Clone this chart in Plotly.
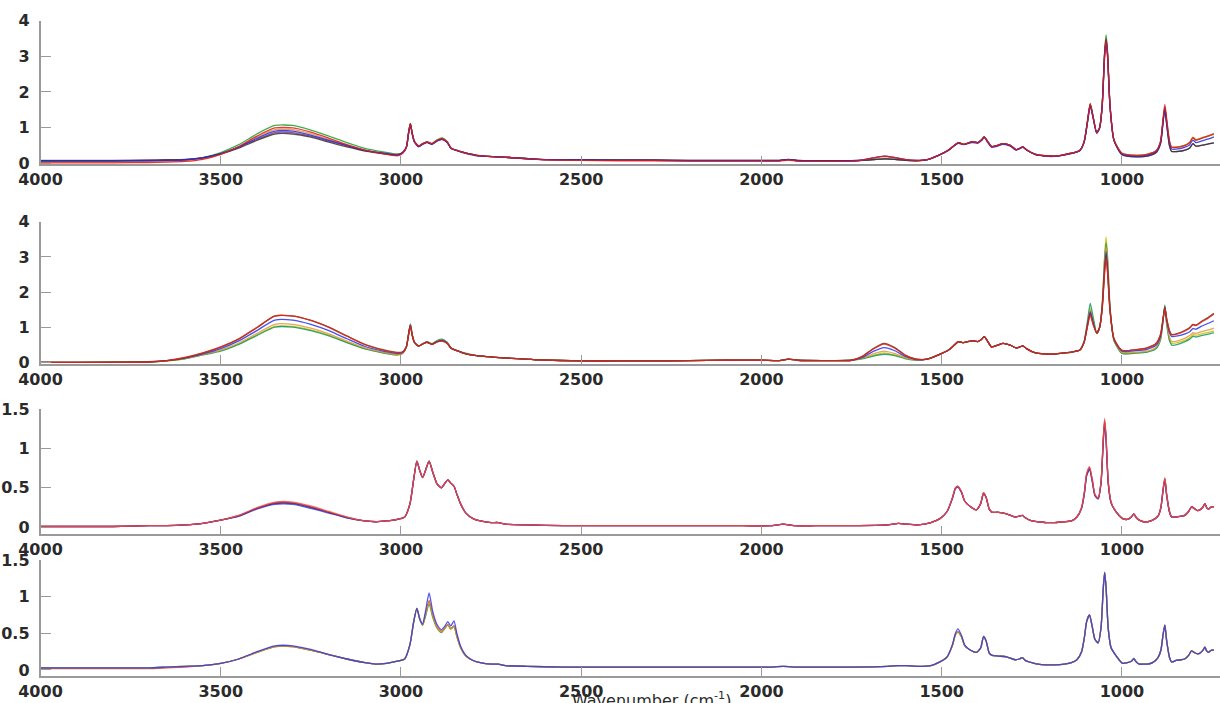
import plotly.graph_objects as go

# ---------------- wavenumber grids (cm-1) ----------------
WN_A = [4000, 3900, 3800, 3700, 3650, 3600, 3550, 3500, 3450, 3400, 3350, 3300, 3250, 3200, 3150, 3100, 3050, 3010,
        2995, 2985, 2979, 2974, 2969, 2963, 2951, 2940, 2928, 2914, 2900, 2886, 2872, 2861, 2845, 2829, 2810, 2790, 2760, 2737, 2700, 2617,
        2500, 2400, 2300, 2200, 2100, 2000, 1950, 1925, 1900, 1800,
        1750, 1720, 1690, 1660, 1630, 1600, 1570, 1540, 1509, 1481,
        1465, 1454, 1440, 1416, 1400, 1390, 1382, 1372, 1362, 1345,
        1330, 1310, 1294, 1283, 1275, 1265, 1240, 1215, 1190, 1165,
        1140, 1117, 1105, 1096, 1088, 1080, 1070, 1062, 1055, 1048,
        1044, 1040, 1033, 1022, 1000, 960, 930, 905, 893, 886,
        881, 876, 868, 862, 845, 825, 812, 803, 795, 780,
        760, 745]

WN_B = [4000, 3900, 3800, 3700, 3650, 3600, 3550, 3500, 3450, 3400,
        3350, 3300, 3250, 3200, 3150, 3100, 3070, 3040, 3010, 2990,
        2975, 2965, 2956, 2948, 2940, 2932, 2922, 2912, 2900, 2888,
        2878, 2870, 2862, 2853, 2845, 2835, 2820, 2800, 2780, 2750,
        2730, 2710, 2650, 2550, 2450, 2350, 2250, 2150, 2050, 1970,
        1940, 1910, 1850, 1750, 1650, 1620, 1600, 1565, 1530, 1505,
        1485, 1470, 1462, 1455, 1445, 1436, 1420, 1404, 1392, 1384,
        1377, 1368, 1360, 1343, 1320, 1297, 1285, 1276, 1268, 1250,
        1233, 1210, 1186, 1160, 1140, 1125, 1112, 1104, 1098, 1090,
        1082, 1075, 1066, 1058, 1052, 1048, 1044, 1038, 1030, 1020,
        1008, 998, 985, 974, 967, 960, 952, 940, 929, 915,
        900, 892, 886, 881, 876, 868, 862, 850, 835, 826,
        815, 807, 800, 790, 781, 775, 770, 765, 760, 755,
        750, 745]

# ---------------- panel 1 spectra ----------------
p1_green = [.06, .06, .06, .07, .08, .10, .16, .30, .52, .82, 1.06, 1.06, .93, .76, .58, .42, .32, .26,
            .30, .45, .85, 1.12, .85, .62, .48, .55, .60, .55, .66, .71, .61, .42, .36, .31, .26, .22, .19, .18, .16, .11,
            .09, .08, .08, .07, .07, .07, .07, .10, .07, .06,
            .07, .08, .10, .12, .11, .08, .07, .10, .22, .37,
            .50, .58, .53, .60, .58, .65, .74, .60, .47, .50,
            .55, .50, .38, .42, .46, .38, .25, .21, .20, .23,
            .28, .36, .60, 1.15, 1.66, 1.30, .86, 1.00, 1.62, 3.15,
            3.60, 3.15, 1.62, .65, .28, .22, .25, .35, .60, 1.18,
            1.55, 1.18, .60, .45, .45, .50, .58, .72, .65, .70,
            .76, .82]
p1_red = [.01, .01, .01, .02, .03, .05, .11, .25, .47, .76, .99, .99, .87, .70, .52, .37, .27, .21,
          .28, .45, .85, 1.10, .84, .62, .48, .55, .60, .55, .64, .68, .60, .42, .36, .31, .26, .22, .19, .18, .16, .10,
          .08, .07, .07, .06, .06, .06, .06, .09, .06, .05,
          .06, .09, .15, .20, .16, .10, .08, .10, .22, .37,
          .50, .58, .53, .60, .58, .65, .74, .60, .47, .50,
          .55, .50, .38, .42, .46, .38, .25, .21, .20, .23,
          .28, .36, .60, 1.15, 1.68, 1.30, .86, 1.00, 1.58, 3.00,
          3.46, 3.00, 1.58, .65, .28, .22, .25, .35, .62, 1.25,
          1.65, 1.25, .62, .45, .45, .50, .58, .72, .65, .70,
          .77, .83]
p1_orange = [.03, .03, .03, .04, .05, .07, .12, .25, .46, .73, .94, .94, .83, .67, .51, .36, .27, .22,
             .29, .45, .85, 1.11, .85, .62, .48, .55, .60, .55, .64, .69, .60, .42, .36, .31, .26, .22, .19, .18, .16, .11,
             .09, .08, .08, .07, .07, .07, .07, .10, .07, .06,
             .07, .09, .14, .18, .15, .10, .08, .10, .22, .37,
             .50, .58, .53, .60, .58, .65, .74, .60, .47, .50,
             .55, .50, .38, .42, .46, .38, .25, .21, .20, .23,
             .28, .36, .60, 1.15, 1.66, 1.30, .86, 1.00, 1.60, 3.08,
             3.50, 3.08, 1.60, .65, .28, .22, .25, .35, .60, 1.20,
             1.58, 1.20, .60, .45, .46, .51, .59, .73, .66, .71,
             .77, .80]
p1_blue = [.06, .06, .06, .07, .08, .09, .15, .27, .45, .70, .90, .90, .79, .64, .50, .36, .28, .23,
           .30, .45, .84, 1.08, .82, .60, .46, .53, .58, .53, .62, .66, .58, .41, .35, .30, .25, .21, .19, .18, .16, .11,
           .09, .08, .08, .07, .07, .07, .07, .10, .07, .06,
           .07, .09, .15, .20, .16, .10, .08, .10, .22, .36,
           .49, .56, .52, .58, .56, .63, .72, .58, .45, .48,
           .53, .48, .37, .41, .45, .37, .24, .20, .19, .22,
           .27, .35, .58, 1.12, 1.60, 1.27, .84, .98, 1.58, 3.05,
           3.45, 3.05, 1.58, .64, .26, .20, .23, .33, .58, 1.18,
           1.55, 1.15, .55, .40, .40, .45, .52, .65, .58, .62,
           .68, .74]
p1_purple = [.08, .08, .08, .09, .10, .11, .16, .27, .45, .67, .86, .86, .76, .62, .49, .36, .29, .24,
             .31, .46, .84, 1.10, .84, .61, .47, .54, .59, .54, .63, .68, .59, .42, .36, .31, .26, .22, .19, .18, .16, .11,
             .10, .09, .09, .08, .08, .08, .08, .11, .08, .07,
             .07, .08, .10, .12, .11, .08, .07, .10, .22, .37,
             .50, .58, .53, .60, .58, .65, .74, .60, .47, .50,
             .55, .50, .38, .42, .46, .38, .25, .21, .20, .23,
             .28, .36, .60, 1.12, 1.62, 1.28, .85, .98, 1.58, 3.05,
             3.40, 3.02, 1.58, .63, .24, .18, .20, .30, .55, 1.15,
             1.50, 1.10, .48, .33, .33, .37, .43, .55, .48, .50,
             .54, .57]
p1_dark = [.07, .07, .07, .08, .09, .10, .15, .26, .42, .64, .82, .82, .73, .59, .46, .34, .27, .22,
           .30, .45, .85, 1.11, .84, .61, .47, .54, .59, .54, .63, .68, .59, .42, .36, .31, .26, .22, .19, .18, .16, .11,
           .10, .09, .09, .08, .08, .08, .08, .11, .08, .07,
           .07, .08, .10, .12, .11, .08, .07, .10, .22, .37,
           .50, .58, .53, .60, .58, .65, .74, .60, .47, .50,
           .55, .50, .38, .42, .46, .38, .25, .21, .20, .23,
           .28, .36, .60, 1.15, 1.66, 1.30, .86, 1.00, 1.60, 3.08,
           3.50, 3.08, 1.60, .64, .24, .18, .20, .30, .55, 1.15,
           1.55, 1.10, .48, .33, .33, .37, .43, .55, .48, .50,
           .54, .57]

# ---------------- panel 2 spectra ----------------
p2_red = [.01, .01, .01, .02, .06, .15, .28, .45, .68, 1.00, 1.33, 1.33, 1.20, 1.00, .75, .51, .36, .28,
          .30, .45, .80, 1.05, .78, .58, .47, .53, .58, .52, .59, .61, .55, .41, .34, .28, .23, .20, .17, .15, .13, .08,
          .05, .05, .05, .06, .07, .07, .06, .10, .07, .06,
          .07, .18, .39, .53, .41, .20, .10, .10, .22, .36,
          .50, .60, .57, .62, .60, .66, .74, .60, .45, .50,
          .55, .50, .42, .45, .48, .40, .28, .25, .24, .27,
          .30, .36, .58, 1.00, 1.35, 1.08, .84, 1.00, 1.50, 2.55,
          2.96, 2.55, 1.45, .68, .35, .37, .42, .55, .80, 1.25,
          1.55, 1.25, .90, .79, .82, .90, .98, 1.07, 1.05, 1.15,
          1.27, 1.38]
p2_brown = [.01, .01, .02, .03, .06, .14, .27, .44, .67, .99, 1.32, 1.32, 1.20, 1.01, .76, .52, .37, .29,
            .31, .46, .80, 1.06, .79, .58, .47, .53, .58, .52, .59, .62, .55, .41, .34, .28, .23, .20, .17, .15, .13, .08,
            .05, .05, .05, .06, .07, .07, .06, .10, .07, .06,
            .07, .18, .40, .55, .43, .21, .10, .10, .22, .36,
            .50, .60, .57, .62, .60, .66, .74, .60, .45, .50,
            .55, .50, .42, .45, .48, .40, .28, .25, .24, .27,
            .30, .36, .58, 1.03, 1.40, 1.10, .84, 1.00, 1.52, 2.62,
            3.05, 2.62, 1.47, .68, .35, .37, .42, .55, .80, 1.25,
            1.56, 1.26, .91, .80, .83, .92, 1.00, 1.09, 1.07, 1.17,
            1.29, 1.40]
p2_blue = [.01, .01, .01, .02, .06, .13, .25, .40, .62, .91, 1.21, 1.21, 1.09, .91, .68, .46, .33, .26,
           .29, .45, .80, 1.07, .79, .58, .47, .53, .58, .52, .60, .63, .56, .41, .34, .28, .23, .20, .17, .15, .13, .08,
           .05, .05, .05, .06, .07, .07, .06, .10, .07, .06,
           .07, .15, .32, .43, .34, .17, .09, .10, .22, .36,
           .50, .60, .57, .62, .60, .66, .74, .60, .45, .50,
           .55, .50, .42, .45, .48, .40, .28, .25, .24, .27,
           .30, .36, .58, 1.06, 1.45, 1.15, .84, 1.00, 1.55, 2.70,
           3.15, 2.70, 1.50, .66, .33, .34, .38, .50, .75, 1.20,
           1.58, 1.20, .85, .74, .76, .82, .88, .97, .95, 1.03,
           1.12, 1.19]
p2_orange = [.01, .01, .01, .02, .05, .12, .23, .36, .56, .83, 1.09, 1.09, .98, .82, .61, .42, .30, .23,
             .28, .45, .80, 1.08, .80, .58, .47, .53, .58, .52, .60, .64, .56, .41, .34, .28, .23, .20, .17, .15, .13, .08,
             .05, .05, .05, .06, .07, .07, .06, .10, .07, .06,
             .07, .13, .25, .33, .26, .14, .08, .10, .22, .36,
             .50, .60, .57, .62, .60, .66, .74, .60, .45, .50,
             .55, .50, .42, .45, .48, .40, .28, .25, .24, .27,
             .30, .36, .58, 1.08, 1.50, 1.17, .84, 1.00, 1.58, 2.85,
             3.30, 2.85, 1.52, .64, .30, .30, .33, .45, .70, 1.20,
             1.60, 1.15, .72, .60, .62, .70, .77, .85, .83, .88,
             .93, .98]
p2_green = [.01, .01, .01, .02, .05, .11, .22, .33, .52, .77, 1.01, 1.01, .91, .76, .57, .39, .28, .22,
            .27, .45, .82, 1.10, .82, .59, .47, .54, .60, .54, .63, .67, .58, .42, .35, .29, .24, .20, .17, .15, .13, .08,
            .05, .05, .05, .06, .07, .07, .06, .10, .07, .06,
            .07, .11, .19, .24, .20, .11, .07, .10, .22, .36,
            .50, .60, .57, .62, .60, .66, .74, .60, .45, .50,
            .55, .50, .42, .45, .48, .40, .28, .25, .24, .27,
            .30, .36, .60, 1.15, 1.68, 1.30, .84, 1.00, 1.60, 2.95,
            3.40, 2.95, 1.55, .62, .26, .27, .30, .40, .65, 1.20,
            1.64, 1.10, .62, .50, .52, .60, .67, .75, .73, .77,
            .81, .85]
p2_yellow = [.01, .01, .01, .02, .05, .11, .22, .35, .53, .79, 1.03, 1.03, .93, .78, .58, .40, .28, .22,
             .27, .45, .81, 1.08, .80, .58, .47, .53, .59, .53, .61, .65, .57, .41, .34, .28, .23, .20, .17, .15, .13, .08,
             .05, .05, .05, .06, .07, .07, .06, .10, .07, .06,
             .07, .12, .21, .28, .22, .13, .08, .10, .22, .36,
             .50, .60, .57, .62, .60, .66, .74, .60, .45, .50,
             .55, .50, .42, .45, .48, .40, .28, .25, .24, .27,
             .30, .36, .59, 1.10, 1.55, 1.22, .84, 1.00, 1.62, 3.05,
             3.57, 3.05, 1.58, .63, .28, .28, .31, .42, .67, 1.20,
             1.60, 1.12, .66, .55, .57, .64, .71, .80, .78, .82,
             .86, .90]

# ---------------- panel 3 spectra ----------------
p3_red = [.01, .01, .01, .02, .02, .03, .05, .09, .15, .25,
          .32, .32, .27, .20, .13, .08, .07, .08, .10, .13,
          .30, .60, .84, .72, .63, .72, .84, .70, .55, .50,
          .56, .60, .56, .52, .42, .30, .18, .11, .08, .06,
          .06, .04, .03, .02, .02, .02, .02, .02, .02, .02,
          .04, .02, .02, .02, .03, .05, .04, .03, .06, .11,
          .20, .38, .50, .52, .45, .33, .26, .22, .30, .44,
          .38, .23, .19, .19, .17, .13, .14, .15, .12, .08,
          .07, .06, .06, .07, .08, .13, .25, .45, .68, .77,
          .60, .42, .37, .58, 1.12, 1.38, 1.15, .58, .32, .22,
          .15, .11, .10, .13, .17, .12, .09, .07, .07, .09,
          .14, .25, .48, .63, .42, .20, .13, .13, .14, .15,
          .20, .26, .24, .21, .23, .26, .30, .25, .23, .25,
          .26, .26]
p3_darkred = [.01, .01, .01, .02, .02, .03, .05, .09, .15, .24,
              .31, .31, .26, .19, .13, .08, .07, .08, .10, .13,
              .30, .60, .84, .72, .63, .72, .84, .70, .55, .50,
              .56, .60, .56, .52, .42, .30, .18, .11, .08, .06,
              .06, .04, .03, .02, .02, .02, .02, .02, .02, .02,
              .04, .02, .02, .02, .03, .05, .04, .03, .06, .11,
              .20, .38, .50, .52, .45, .33, .26, .22, .30, .44,
              .38, .23, .19, .19, .17, .13, .14, .15, .12, .08,
              .07, .06, .06, .07, .08, .13, .25, .45, .67, .76,
              .59, .41, .37, .57, 1.10, 1.36, 1.13, .57, .31, .22,
              .15, .11, .10, .13, .17, .12, .09, .07, .07, .09,
              .14, .25, .48, .62, .42, .20, .13, .13, .14, .15,
              .20, .26, .24, .21, .23, .26, .30, .25, .23, .25,
              .26, .26]
p3_blue = [.01, .01, .01, .02, .02, .03, .05, .09, .14, .23,
           .29, .29, .24, .18, .12, .08, .07, .08, .10, .13,
           .30, .60, .84, .72, .63, .72, .84, .70, .55, .50,
           .56, .60, .56, .52, .42, .30, .18, .11, .08, .06,
           .06, .04, .03, .02, .02, .02, .02, .02, .02, .02,
           .04, .02, .02, .02, .03, .05, .04, .03, .06, .11,
           .20, .37, .49, .51, .44, .33, .26, .22, .30, .43,
           .38, .23, .19, .19, .17, .13, .14, .15, .12, .08,
           .07, .06, .06, .07, .08, .13, .24, .43, .65, .73,
           .57, .40, .36, .56, 1.07, 1.32, 1.10, .55, .31, .22,
           .15, .11, .10, .13, .17, .12, .09, .07, .07, .09,
           .14, .25, .46, .60, .40, .19, .13, .13, .14, .15,
           .20, .26, .24, .21, .23, .26, .30, .25, .23, .25,
           .26, .26]
p3_navy = [.01, .01, .01, .02, .02, .03, .05, .09, .14, .24,
           .30, .30, .25, .19, .12, .08, .07, .08, .10, .13,
           .30, .60, .84, .72, .63, .72, .84, .70, .55, .50,
           .56, .60, .56, .52, .42, .30, .18, .11, .08, .06,
           .06, .04, .03, .02, .02, .02, .02, .02, .02, .02,
           .04, .02, .02, .02, .03, .05, .04, .03, .06, .11,
           .20, .37, .49, .51, .44, .33, .26, .22, .30, .43,
           .38, .23, .19, .19, .17, .13, .14, .15, .12, .08,
           .07, .06, .06, .07, .08, .13, .24, .44, .66, .74,
           .58, .41, .36, .57, 1.08, 1.34, 1.12, .56, .31, .22,
           .15, .11, .10, .13, .17, .12, .09, .07, .07, .09,
           .14, .25, .47, .61, .41, .19, .13, .13, .14, .15,
           .20, .26, .24, .21, .23, .26, .30, .25, .23, .25,
           .26, .26]

# ---------------- panel 4 spectra ----------------
p4_blue = [.03, .03, .03, .03, .04, .05, .06, .09, .15, .25,
           .33, .33, .28, .21, .15, .10, .08, .09, .12, .15,
           .35, .65, .84, .70, .63, .80, 1.05, .80, .62, .55,
           .60, .66, .60, .67, .50, .33, .20, .13, .10, .08,
           .08, .06, .05, .04, .04, .04, .04, .04, .04, .04,
           .05, .04, .04, .04, .05, .06, .06, .05, .06, .11,
           .18, .35, .50, .56, .47, .34, .27, .24, .30, .46,
           .40, .23, .20, .19, .18, .14, .15, .17, .13, .10,
           .08, .07, .07, .08, .10, .14, .25, .45, .66, .75,
           .58, .42, .37, .58, 1.10, 1.33, 1.12, .56, .30, .22,
           .14, .09, .10, .12, .15, .11, .08, .08, .08, .10,
           .17, .27, .48, .61, .40, .17, .11, .13, .14, .15,
           .20, .26, .24, .22, .24, .27, .31, .26, .24, .26,
           .27, .27]
p4_orange = [.03, .03, .03, .03, .04, .05, .06, .09, .15, .24,
             .32, .32, .27, .21, .15, .10, .08, .09, .12, .15,
             .35, .65, .84, .70, .62, .75, .93, .74, .58, .52,
             .57, .62, .56, .60, .46, .31, .19, .13, .10, .08,
             .08, .06, .05, .04, .04, .04, .04, .04, .04, .04,
             .05, .04, .04, .04, .05, .06, .06, .05, .06, .11,
             .18, .34, .48, .52, .45, .33, .27, .24, .30, .45,
             .40, .23, .20, .19, .18, .14, .15, .17, .13, .10,
             .08, .07, .07, .08, .10, .14, .25, .45, .66, .75,
             .58, .42, .37, .58, 1.10, 1.33, 1.12, .56, .30, .22,
             .14, .09, .10, .12, .15, .11, .08, .08, .08, .10,
             .17, .27, .48, .61, .40, .17, .11, .13, .14, .15,
             .20, .26, .24, .22, .24, .27, .31, .26, .24, .26,
             .27, .27]
p4_green = [.03, .03, .03, .03, .04, .05, .06, .09, .15, .24,
            .32, .32, .27, .21, .15, .10, .08, .09, .12, .15,
            .35, .65, .84, .69, .61, .73, .90, .72, .57, .51,
            .57, .62, .56, .60, .46, .31, .19, .13, .10, .08,
            .08, .06, .05, .04, .04, .04, .04, .04, .04, .04,
            .05, .04, .04, .04, .05, .06, .06, .05, .06, .11,
            .18, .34, .48, .52, .45, .33, .27, .24, .30, .45,
            .40, .23, .20, .19, .18, .14, .15, .17, .13, .10,
            .08, .07, .07, .08, .10, .14, .25, .45, .66, .75,
            .58, .42, .37, .58, 1.10, 1.33, 1.12, .56, .30, .22,
            .14, .09, .10, .12, .16, .11, .08, .08, .08, .10,
            .17, .27, .48, .61, .40, .17, .11, .13, .14, .15,
            .20, .26, .24, .22, .24, .27, .31, .26, .24, .26,
            .27, .27]
p4_red = [.02, .02, .02, .02, .03, .04, .06, .09, .15, .24,
          .32, .32, .27, .21, .15, .10, .08, .09, .12, .15,
          .35, .65, .84, .70, .62, .76, .95, .75, .59, .53,
          .57, .62, .56, .60, .46, .31, .19, .13, .10, .08,
          .08, .06, .05, .04, .04, .04, .04, .04, .04, .04,
          .05, .04, .04, .04, .05, .06, .06, .05, .06, .11,
          .18, .34, .48, .52, .45, .33, .27, .24, .30, .45,
          .40, .23, .20, .19, .18, .14, .15, .17, .13, .10,
          .08, .07, .07, .08, .10, .14, .25, .45, .66, .75,
          .58, .42, .37, .58, 1.10, 1.33, 1.12, .56, .30, .22,
          .14, .09, .10, .12, .15, .11, .08, .08, .08, .10,
          .17, .27, .48, .61, .40, .17, .11, .13, .14, .15,
          .20, .26, .24, .22, .24, .27, .31, .26, .24, .26,
          .27, .27]

X_TICKS = [4000, 3500, 3000, 2500, 2000, 1500, 1000]
Y_TICKS_BIG = [0, 1, 2, 3, 4]
Y_TICKS_SMALL = [0, 0.5, 1, 1.5]
X_TITLE = "Wavenumber (cm<sup>-1</sup>)"

# (grid, values, colour) per panel, listed in drawing order
panels = [
    (WN_A, [(p1_green, "rgba(30,160,40,0.85)"), (p1_orange, "rgba(230,150,60,0.85)"),
            (p1_purple, "rgba(120,60,160,0.85)"), (p1_dark, "rgba(60,50,40,0.85)"),
            (p1_blue, "rgba(40,40,220,0.85)"), (p1_red, "rgba(225,25,25,0.85)")]),
    (WN_A, [(p2_yellow, "rgba(200,195,20,0.9)"), (p2_green, "rgba(20,150,90,0.85)"),
            (p2_orange, "rgba(225,150,60,0.85)"), (p2_blue, "rgba(35,50,235,0.85)"),
            (p2_brown, "rgba(100,55,25,0.85)"), (p2_red, "rgba(225,35,25,0.85)")]),
    (WN_B, [(p3_navy, "rgba(30,30,140,0.8)"), (p3_blue, "rgba(40,60,235,0.8)"),
            (p3_darkred, "rgba(170,20,20,0.8)"), (p3_red, "rgba(240,80,80,0.8)")]),
    (WN_B, [(p4_red, "rgba(210,60,45,0.85)"), (p4_green, "rgba(50,150,50,0.85)"),
            (p4_orange, "rgba(225,145,45,0.85)"), (p4_blue, "rgba(55,55,230,0.85)")]),
]

for grid, curves in panels:
    for vals, _ in curves:
        if len(vals) != len(grid):
            raise ValueError(f"length mismatch: {len(vals)} vs {len(grid)}")

# axis placement (paper fractions) and value ranges
x_domain = [0.0332, 1.0]
y_domains = [[0.7663, 0.9706], [0.4822, 0.6846], [0.2400, 0.4182], [0.0388, 0.2034]]
y_ranges = [[-0.03, 4.0], [-0.037, 4.0], [-0.089, 1.5], [-0.078, 1.5]]
y_ticks = [Y_TICKS_BIG, Y_TICKS_BIG, Y_TICKS_SMALL, Y_TICKS_SMALL]

fig = go.Figure()
font = dict(family="DejaVu Sans", size=16, color="#2a2a2a", weight="bold")
axis_grey = "#9a9a9a"

for i, (grid, curves) in enumerate(panels, start=1):
    for vals, colour in curves:
        fig.add_trace(go.Scatter(
            x=grid, y=vals, mode="lines",
            line=dict(color=colour, width=1.3, shape="spline", smoothing=0.6),
            xaxis=f"x{i}", yaxis=f"y{i}", hoverinfo="skip", showlegend=False))

    fig.layout[f"xaxis{i}"] = dict(
        domain=x_domain, range=[4000, 728], anchor=f"y{i}", automargin=False,
        showline=True, linecolor=axis_grey, linewidth=1.5,
        ticks="inside", ticklen=9, tickwidth=1, tickcolor=axis_grey,
        tickvals=X_TICKS, tickfont=font, showgrid=False, zeroline=False)
    fig.layout[f"yaxis{i}"] = dict(
        domain=y_domains[i - 1], range=y_ranges[i - 1], anchor=f"x{i}", automargin=False,
        showline=True, linecolor=axis_grey, linewidth=1.5,
        ticks="inside", ticklen=11, tickwidth=1, tickcolor=axis_grey,
        tickvals=y_ticks[i - 1], tickfont=font, ticklabelstandoff=6,
        showgrid=False, zeroline=False)

fig.add_annotation(text=X_TITLE, xref="paper", yref="paper", x=0.534, y=0.005,
                   xanchor="center", yanchor="middle", showarrow=False,
                   font=dict(family="DejaVu Sans", size=16, color="#2a2a2a"))

fig.update_layout(width=1220, height=703, margin=dict(l=0, r=0, t=0, b=0),
                  paper_bgcolor="white", plot_bgcolor="white", showlegend=False)

fig.write_html("out.html")
